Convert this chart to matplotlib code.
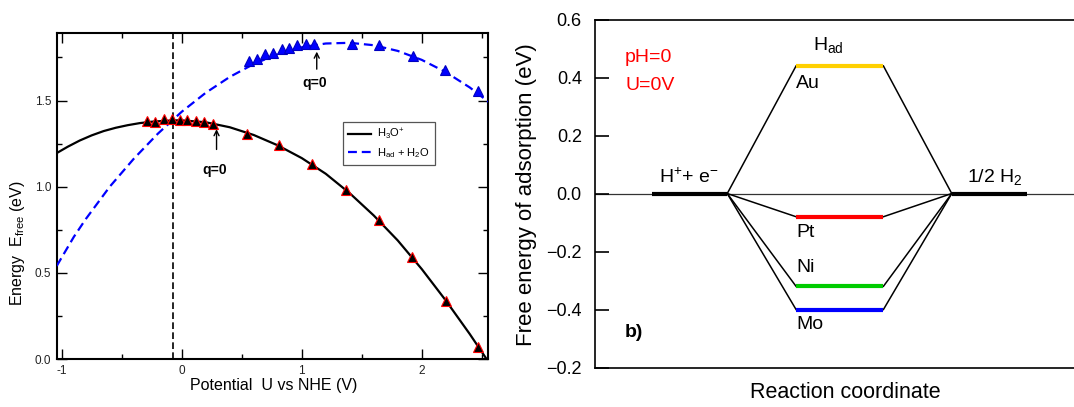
import matplotlib
matplotlib.use('Agg')
import matplotlib.pyplot as plt

plt.rcParams['font.family'] = ['Liberation Sans', 'DejaVu Sans']
plt.rcParams['mathtext.fontset'] = 'custom'
plt.rcParams['mathtext.rm'] = 'Liberation Sans'
plt.rcParams['mathtext.it'] = 'Liberation Sans:italic'
plt.rcParams['mathtext.bf'] = 'Liberation Sans:bold'
plt.rcParams['mathtext.default'] = 'regular'

# ---- panel a: energy vs potential ----
# fitted curves
u_h3o = [-1.042, -0.95, -0.85, -0.75, -0.65, -0.55, -0.45, -0.35, -0.25, -0.15, -0.05,
         0.0, 0.2, 0.4, 0.6, 0.8, 1.0, 1.2, 1.4, 1.6, 1.8, 2.0, 2.2, 2.4, 2.54]
e_h3o = [1.195, 1.232, 1.268, 1.298, 1.323, 1.342, 1.357, 1.369, 1.377, 1.382, 1.385,
         1.385, 1.374, 1.345, 1.300, 1.240, 1.166, 1.075, 0.962, 0.833, 0.688, 0.522, 0.340, 0.145, 0.0]

u_had = [-1.042, -0.9, -0.8, -0.6, -0.4, -0.2, 0.0, 0.2, 0.4, 0.6, 0.8,
         1.0, 1.2, 1.4, 1.6, 1.8, 2.0, 2.2, 2.4, 2.555]
e_had = [0.54, 0.708, 0.812, 1.0, 1.162, 1.307, 1.435, 1.545, 1.637, 1.712, 1.769,
         1.809, 1.831, 1.835, 1.821, 1.788, 1.736, 1.665, 1.576, 1.493]

# computed points (triangles)
u_h3o_pts = [-0.287, -0.222, -0.145, -0.083, -0.014, 0.047, 0.119, 0.186, 0.263,
             0.542, 0.811, 1.086, 1.369, 1.647, 1.922, 2.2, 2.472]
e_h3o_pts = [1.381, 1.376, 1.39, 1.39, 1.386, 1.386, 1.381, 1.376, 1.366,
             1.308, 1.240, 1.130, 0.978, 0.804, 0.591, 0.335, 0.072]

u_had_pts = [0.561, 0.625, 0.697, 0.758, 0.836, 0.897, 0.963, 1.033, 1.105,
             1.417, 1.644, 1.925, 2.194, 2.467]
e_had_pts = [1.730, 1.742, 1.771, 1.775, 1.800, 1.802, 1.820, 1.829, 1.831,
             1.826, 1.820, 1.759, 1.676, 1.554]

u_eq = -0.075

# ---- panel b: free energy diagram ----
metals = ['Au', 'Pt', 'Ni', 'Mo']
dg_ads = [0.44, -0.08, -0.32, -0.40]
metal_colors = ['#ffd000', '#ff0000', '#00cc00', '#0000ff']
label_y = [0.408, -0.106, -0.226, -0.421]
yticks_b = [-0.6, -0.4, -0.2, 0.0, 0.2, 0.4, 0.6]
yticklabels_b = ['\u22120.2', '\u22120.4', '\u22120.2', '0.0', '0.2', '0.4', '0.6']

x_start = (1.16, 2.71)
x_mid = (4.12, 5.91)
x_end = (7.31, 8.85)

fig = plt.figure(figsize=(10.74, 4.07), dpi=100)

ax1 = fig.add_axes([0.0528, 0.1179, 0.4019, 0.8002])
ax1.plot(u_h3o, e_h3o, color='black', lw=1.6, label='H$_3$O$^{+}$', zorder=3)
ax1.plot(u_had, e_had, color='blue', lw=1.6, dashes=(4, 2.2), label='H$_{ad}$ + H$_2$O', zorder=3)
ax1.plot(u_h3o_pts, e_h3o_pts, ls='none', marker='^', ms=7, mfc='black', mec='red', mew=0.8, zorder=4)
ax1.plot(u_had_pts, e_had_pts, ls='none', marker='^', ms=7, mfc='blue', mec='#0000c0', mew=0.8, zorder=4)
ax1.axvline(u_eq, color='black', lw=1.2, dashes=(4, 2), zorder=2)

ax1.annotate('', xy=(0.29, 1.35), xytext=(0.29, 1.20),
             arrowprops=dict(arrowstyle='->', color='black', lw=1, mutation_scale=9))
ax1.text(0.273, 1.095, 'q=0', ha='center', va='center', fontsize=10, fontweight='bold')
ax1.annotate('', xy=(1.125, 1.80), xytext=(1.125, 1.666),
             arrowprops=dict(arrowstyle='->', color='black', lw=1, mutation_scale=9))
ax1.text(1.107, 1.599, 'q=0', ha='center', va='center', fontsize=10, fontweight='bold')

ax1.set_xlim(-1.042, 2.555)
ax1.set_ylim(0, 1.89)
ax1.set_xticks([-1, 0, 1, 2])
ax1.set_xticklabels(['-1', '0', '1', '2'])
ax1.set_xticks([-0.5, 0.5, 1.5, 2.5], minor=True)
ax1.set_yticks([0.0, 0.5, 1.0, 1.5])
ax1.set_yticklabels(['0.0', '0.5', '1.0', '1.5'])
ax1.set_yticks([0.25, 0.75, 1.25, 1.75], minor=True)
ax1.tick_params(which='both', direction='in', top=True, right=True, labelsize=8.5,
                labelcolor='#222222', pad=4)
ax1.tick_params(which='major', length=7, width=1)
ax1.tick_params(which='minor', length=3.5, width=1)
for s in ax1.spines.values():
    s.set_linewidth(1.5)
ax1.set_xlabel('Potential  U vs NHE (V)', fontsize=11.5)
ax1.set_ylabel('Energy  E$_{free}$ (eV)', fontsize=11.5)
ax1.xaxis.set_label_coords(0.502, -0.057)
ax1.yaxis.set_label_coords(-0.069, 0.356)
leg = ax1.legend(loc='upper left', bbox_to_anchor=(0.664, 0.727), fontsize=8,
                 fancybox=False, edgecolor='#555555', framealpha=1,
                 handlelength=2.0, borderpad=0.45, labelspacing=0.35, handletextpad=0.6,
                 borderaxespad=0)
leg.get_frame().set_linewidth(0.9)

ax2 = fig.add_axes([0.554, 0.097, 0.4544, 0.855])
ax2.axhline(0, color='#333333', lw=0.9, zorder=1)
ax2.plot(x_start, [0, 0], color='black', lw=3, solid_capstyle='butt', zorder=3)
ax2.plot(x_end, [0, 0], color='black', lw=3, solid_capstyle='butt', zorder=3)
for name, g, c, ly in zip(metals, dg_ads, metal_colors, label_y):
    ax2.plot([x_start[1], x_mid[0]], [0, g], color='black', lw=1.1, zorder=2)
    ax2.plot([x_mid[1], x_end[0]], [g, 0], color='black', lw=1.1, zorder=2)
    ax2.plot(x_mid, [g, g], color=c, lw=3, solid_capstyle='butt', zorder=3)
    ax2.text(x_mid[0], ly, name, ha='left', va='top', fontsize=14)

ax2.text(4.47, 0.494, 'H$_{ad}$', ha='left', va='baseline', fontsize=14)
ax2.text(1.93, 0.039, 'H$^{+}$+ e$^{-}$', ha='center', va='baseline', fontsize=14)
ax2.text(8.2, 0.039, '1/2 H$_2$', ha='center', va='baseline', fontsize=14)
ax2.text(0.615, 0.454, 'pH=0', color='red', ha='left', va='baseline', fontsize=14)
ax2.text(0.615, 0.357, 'U=0V', color='red', ha='left', va='baseline', fontsize=14)
ax2.text(0.6, -0.495, 'b)', ha='left', va='baseline', fontsize=14, fontweight='bold')

ax2.set_xlim(0, 10)
ax2.set_ylim(-0.6, 0.6)
ax2.set_xticks([])
ax2.set_yticks(yticks_b)
ax2.set_yticklabels(yticklabels_b)
ax2.tick_params(axis='y', direction='in', length=10, width=1.2, labelsize=13, pad=9.5)
ax2.spines['right'].set_visible(False)
for s in ax2.spines.values():
    s.set_linewidth(1.2)
ax2.set_xlabel('Reaction coordinate', fontsize=15.5)
ax2.set_ylabel('Free energy of adsorption (eV)', fontsize=16)
ax2.xaxis.set_label_coords(0.512, -0.043)
ax2.yaxis.set_label_coords(-0.119, 0.496)

fig.savefig('out.png', dpi=100)
